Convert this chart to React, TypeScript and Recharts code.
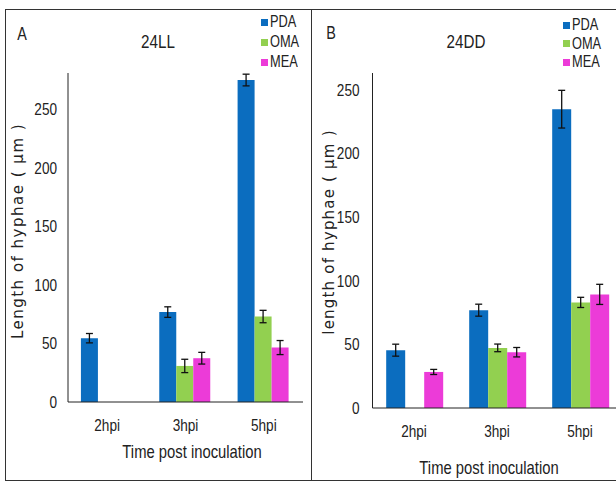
import { BarChart, Bar, XAxis, YAxis, ErrorBar, Legend } from 'recharts';

const categories = ['2hpi', '3hpi', '5hpi'];
const seriesOrder = ['PDA', 'OMA', 'MEA'];

// panel A (24LL)
const pdaA = [54.5, 76.8, 275];
const pdaErrA = [4, 4.5, 5];
const omaA = [null, 30.8, 73];
const omaErrA = [null, 5.7, 5.3];
const meaA = [null, 37.4, 46.5];
const meaErrA = [null, 5, 6];

// panel B (24DD)
const pdaB = [45.4, 76.8, 234.6];
const pdaErrB = [4.7, 4.7, 14.8];
const omaB = [null, 47.2, 82.9];
const omaErrB = [null, 3, 4];
const meaB = [28.3, 43.8, 89.2];
const meaErrB = [2, 3.7, 7.9];

const yTicks = [0, 50, 100, 150, 200, 250];

const BLUE = '#0b6dbf';
const GREEN = '#92d050';
const PINK = '#ec3bd8';
const FONT = "'Liberation Sans', Arial, sans-serif";
const TXT = '#222';
const SQ = 0.8; // squeeze to fake a narrow face

const build = (p: (number | null)[], pe: (number | null)[], o: (number | null)[], oe: (number | null)[], m: (number | null)[], me: (number | null)[]) =>
  categories.map((c, i) => ({ name: c, PDA: p[i], pdaErr: pe[i], OMA: o[i], omaErr: oe[i], MEA: m[i], meaErr: me[i] }));

const dataA = build(pdaA, pdaErrA, omaA, omaErrA, meaA, meaErrA);
const dataB = build(pdaB, pdaErrB, omaB, omaErrB, meaB, meaErrB);

const squeeze = (x: number, y: number) => `translate(${x},${y}) scale(${SQ},1) translate(${-x},${-y})`;

const XTick = ({ x, y, payload }: any) => (
  <text x={x} y={y} dy="0.71em" textAnchor="middle" fill={TXT} fontSize={17} fontFamily={FONT} transform={squeeze(x, y)}>
    {payload.value}
  </text>
);

const YTick = ({ x, y, payload }: any) => (
  <text x={x} y={y} dy="0.355em" textAnchor="end" fill={TXT} fontSize={17} fontFamily={FONT} transform={squeeze(x, y)}>
    {payload.value}
  </text>
);

const legendContent = (lineH: number) => (props: any) => {
  const items = [...(props.payload || [])].sort(
    (a: any, b: any) => seriesOrder.indexOf(a.value) - seriesOrder.indexOf(b.value));
  return (
    <div>
      {items.map((it: any) => (
        <div key={it.value} style={{ height: lineH, display: 'flex', alignItems: 'center' }}>
          <span style={{ width: 7, height: 7, background: it.color, display: 'inline-block', marginRight: 2 }} />
          <span style={{ fontSize: 16, fontFamily: FONT, color: TXT, display: 'inline-block', transform: `scaleX(${SQ})`, transformOrigin: 'left center' }}>
            {it.value}
          </span>
        </div>
      ))}
    </div>
  );
};

const abs = (left: number, top: number, extra: React.CSSProperties = {}): React.CSSProperties => ({
  position: 'absolute', left, top, transform: `translate(-50%, -50%) scaleX(${SQ})`, whiteSpace: 'nowrap', color: TXT, ...extra,
});

function Panel({ data, width, margin, yMax, tickGap, legendPos, lineH }: any) {
  return (
    <BarChart width={width} height={484} data={data} margin={margin} barCategoryGap="16.5%" barGap={0}>
      <XAxis dataKey="name" height={30} tickLine={false} tickSize={0} tickMargin={17} stroke="#222" tick={<XTick />} />
      <YAxis width={60} domain={[0, yMax]} ticks={yTicks} allowDataOverflow tickLine={false} tickSize={0}
        tickMargin={tickGap} stroke="#222" tick={<YTick />} />
      {/* centre/middle alignment keeps the legend from eating plot space */}
      <Legend layout="vertical" verticalAlign="middle" align="center" content={legendContent(lineH)}
        wrapperStyle={{ top: legendPos.top, left: legendPos.left, right: 'auto', bottom: 'auto', width: 'auto' }} />
      <Bar dataKey="PDA" fill={BLUE} isAnimationActive={false}>
        <ErrorBar dataKey="pdaErr" width={3.5} stroke="#111" strokeWidth={1.3} />
      </Bar>
      <Bar dataKey="OMA" fill={GREEN} isAnimationActive={false}>
        <ErrorBar dataKey="omaErr" width={3.5} stroke="#111" strokeWidth={1.3} />
      </Bar>
      <Bar dataKey="MEA" fill={PINK} isAnimationActive={false}>
        <ErrorBar dataKey="meaErr" width={3.5} stroke="#111" strokeWidth={1.3} />
      </Bar>
    </BarChart>
  );
}

export default function App() {
  return (
    <div style={{ position: 'absolute', left: 0, top: 0, width: 616, height: 484, overflow: 'hidden', background: '#fff', fontFamily: FONT }}>
      <div style={{ position: 'absolute', left: 5, top: 9, width: 640, height: 472, border: '1px solid #333', boxSizing: 'border-box' }} />
      <div style={{ position: 'absolute', left: 311, top: 9, width: 1, height: 472, background: '#333' }} />

      <div style={{ position: 'absolute', left: 0, top: 0 }}>
        <Panel data={dataA} width={310} margin={{ top: 73, right: 7, left: 8, bottom: 52 }} yMax={281}
          tickGap={11} legendPos={{ top: 12, left: 261 }} lineH={20} />
      </div>
      <div style={{ position: 'absolute', left: 312, top: 0 }}>
        <Panel data={dataB} width={320} margin={{ top: 73, right: 10.5, left: 0.5, bottom: 46 }} yMax={263}
          tickGap={13} legendPos={{ top: 16, left: 251 }} lineH={18.5} />
      </div>

      <div style={abs(22, 34, { fontSize: 18 })}>A</div>
      <div style={abs(158, 42, { fontSize: 19 })}>24LL</div>
      <div style={abs(331, 33, { fontSize: 18 })}>B</div>
      <div style={abs(466, 42, { fontSize: 19 })}>24DD</div>

      <div style={abs(192, 452, { fontSize: 18.5 })}>Time post inoculation</div>
      <div style={abs(489, 468, { fontSize: 18.5 })}>Time post inoculation</div>

      <div style={abs(18, 231, { fontSize: 15, fontFamily: "'DejaVu Sans', sans-serif", letterSpacing: 1.5, transform: 'translate(-50%, -50%) rotate(-90deg)' })}>
        Length of hyphae ( µm )
      </div>
      <div style={abs(329, 232, { fontSize: 15, fontFamily: "'DejaVu Sans', sans-serif", letterSpacing: 1.2, transform: 'translate(-50%, -50%) rotate(-90deg)' })}>
        length of hyphae ( µm )
      </div>
    </div>
  );
}
